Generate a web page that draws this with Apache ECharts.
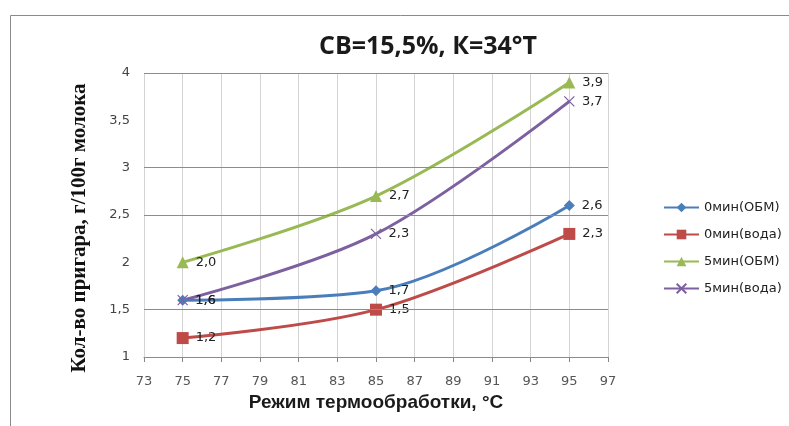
<!DOCTYPE html>
<html><head><meta charset="utf-8">
<script src="https://cdn.jsdelivr.net/npm/echarts@6/dist/echarts.min.js"></script>
<style>html,body{margin:0;padding:0;background:#fff}#c{width:789px;height:426px}</style>
</head><body><div id="c"></div>
<script>
const temps = [75, 85, 95];
const seriesNames = ['0мин(ОБМ)', '0мин(вода)', '5мин(ОБМ)', '5мин(вода)'];
const obm0 = [1.6, 1.7, 2.6];
const voda0 = [1.2, 1.5, 2.3];
const obm5 = [2.0, 2.7, 3.9];
const voda5 = [1.6, 2.3, 3.7];
const yGridValues = [1, 1.5, 2.5, 3, 4];
const titleText = 'СВ=15,5%, К=34°Т';
const xName = 'Режим термообработки, °С';
const yName = 'Кол-во пригара, г/100г молока';

const fmt = v => v.toFixed(1).replace('.', ',');
const pairs = arr => temps.map((t, i) => [t, arr[i]]);
const colors = ['#4A7EBB', '#BE4B48', '#98B954', '#7D60A0'];
const symbols = ['diamond', 'rect', 'triangle', 'path://M0,0L10,10M10,0L0,10'];
const sizes = [11, 12, 12, 10];
const datasets = [obm0, voda0, obm5, voda5];

const chart = echarts.init(document.getElementById('c'));
const series = datasets.map((d, i) => ({
  name: seriesNames[i], type: 'line', smooth: 0.34, z: 3,
  data: pairs(d), symbol: symbols[i], symbolSize: sizes[i],
  lineStyle: { color: colors[i], width: 3 },
  itemStyle: i === 3 ? { color: colors[i], borderColor: colors[i], borderWidth: 1.2 } : { color: colors[i] },
  label: { show: true, position: 'right', distance: 7, color: '#222', fontSize: 13,
    fontFamily: 'DejaVu Sans', formatter: p => fmt(p.value[1]) }
}));
series.push({
  type: 'line', name: '_grid', z: 1, data: [], silent: true,
  markLine: { silent: true, symbol: 'none', label: { show: false },
    lineStyle: { color: '#8c8c8c', type: 'solid', width: 1 },
    data: yGridValues.map(v => ({ yAxis: v })) }
});

chart.setOption({
  animation: false,
  graphic: [{ type: 'rect', left: 8, top: 13, shape: { width: 820, height: 440 },
    style: { fill: 'none', stroke: '#8a8a8a', lineWidth: 1 }, silent: true }],
  title: { text: titleText, left: 319, top: 34, padding: 0,
    textStyle: { fontFamily: 'Open Sans', fontWeight: 'bold', fontSize: 25, color: '#1a1a1a' } },
  legend: { data: seriesNames, orient: 'vertical', left: 658, top: 196, itemWidth: 35, itemHeight: 12,
    itemGap: 14, textStyle: { fontSize: 13, color: '#222', fontFamily: 'DejaVu Sans' } },
  grid: { left: 144, right: 181, top: 73, bottom: 69, containLabel: false },
  xAxis: { type: 'value', min: 73, max: 97, interval: 2,
    name: xName, nameLocation: 'middle', nameGap: 27,
    nameTextStyle: { fontFamily: 'Liberation Sans', fontWeight: 'bold', fontSize: 19, color: '#1a1a1a' },
    axisLine: { show: true, lineStyle: { color: '#868686' } },
    axisTick: { show: true, length: 5, lineStyle: { color: '#868686' } },
    axisLabel: { margin: 18, fontSize: 13, color: '#555', fontFamily: 'DejaVu Sans' },
    splitLine: { show: true, lineStyle: { color: '#d4d4d4', width: 1 } } },
  yAxis: { type: 'value', min: 1, max: 4, interval: 0.5,
    name: yName, nameLocation: 'middle', nameGap: 54, nameRotate: 90,
    nameTextStyle: { fontFamily: 'Liberation Serif', fontWeight: 'bold', fontSize: 21, color: '#111',
      padding: [0, 26, 0, 0] },
    axisLine: { show: false }, axisTick: { show: false },
    axisLabel: { margin: 14, fontSize: 13, color: '#444', fontFamily: 'DejaVu Sans',
      formatter: v => String(v).replace('.', ',') },
    splitLine: { show: false } },
  series: series
});
</script></body></html>
